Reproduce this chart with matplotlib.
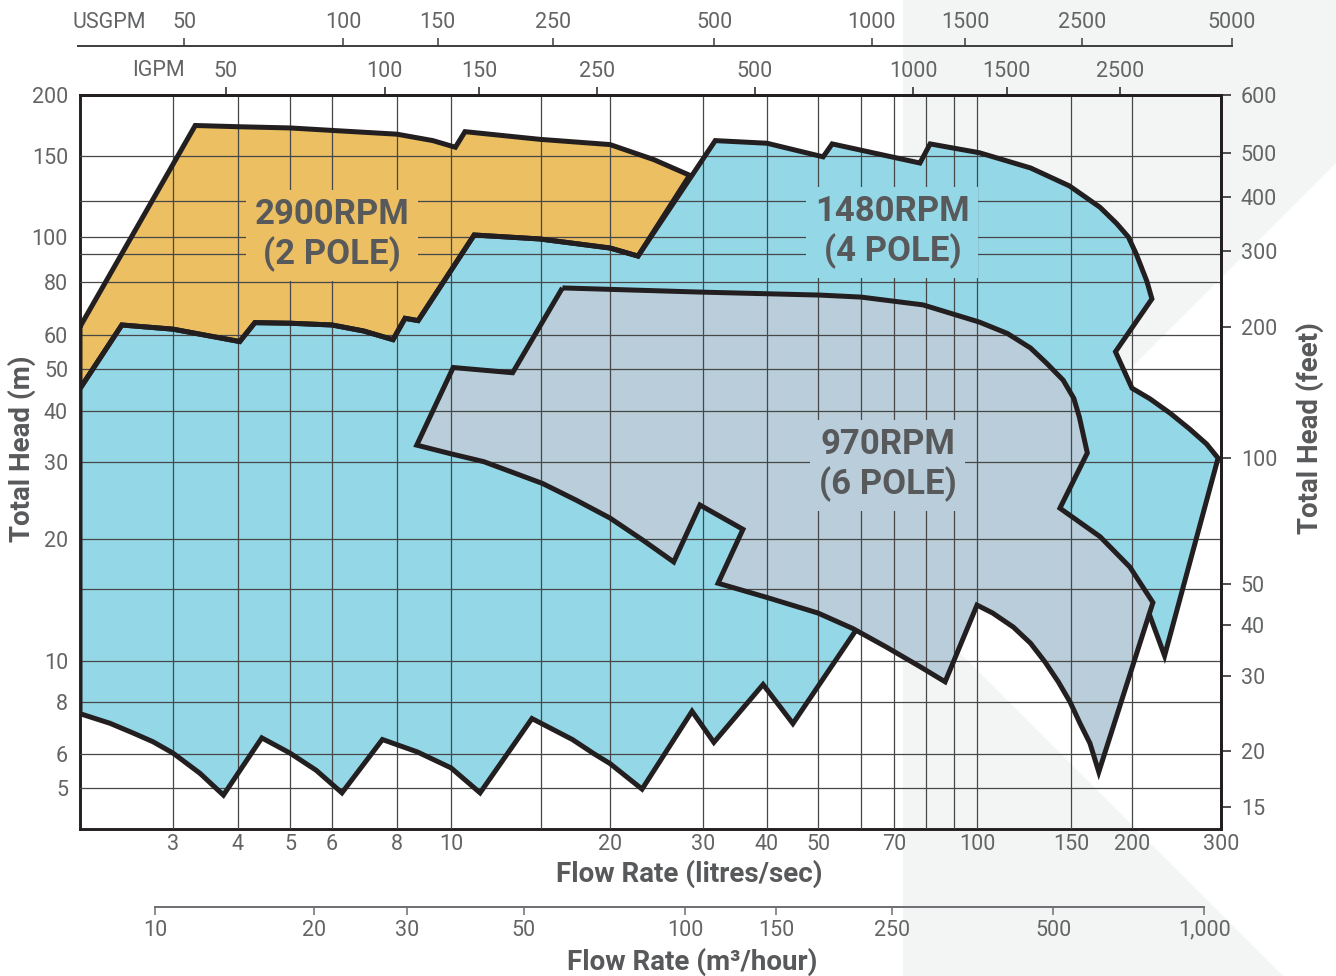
import numpy as np
import matplotlib
matplotlib.use("Agg")
from matplotlib import pyplot as plt
from matplotlib.patches import Polygon

plt.rcParams['font.family'] = ['Roboto', 'DejaVu Sans']

W, H = 1336, 976

# ---------------- pump coverage areas: flow in l/s, head in m ----------------
# boundary between the 2 pole area (above) and the 4 pole area (below), left -> right
split_q = [2, 2.4, 3, 4.03, 4.3, 5, 6, 6.9, 7.86, 8.27, 8.73, 11.1, 14.9, 20, 22.6]
split_h = [45, 63.4, 62, 58, 64.2, 64, 63.4, 61.4, 58.6, 65.7, 64.9, 101, 98.8, 93.4, 89.2]

# 2900 rpm (2 pole) upper limit, left -> right
p2_top_q = [2, 3.31, 4, 5, 6, 8, 9.28, 10.2, 10.65, 14.9, 20, 24.2, 28.3]
p2_top_h = [62.8, 173, 172, 171, 169, 166, 161, 156, 168, 162, 158, 147, 136]

# 1480 rpm (4 pole) upper and right limit, continues from the split line
p4_top_q = [31.7, 40, 51.1, 53.1, 78, 81.4, 101, 126, 149, 172, 186, 196.6, 204, 214, 219,
            185, 200, 217, 238, 260, 281, 296, 232, 216]
p4_top_h = [161, 159, 149, 158.5, 144.5, 158.5, 152, 141, 129, 116, 107, 100, 89.9, 80.1, 72.9,
            54.9, 45.1, 42.6, 39.4, 36.1, 33.2, 30.7, 10.3, 13.1]

# lower limit of the blue area, right -> left
p4_low_q = [58.5, 44.8, 39.3, 31.5, 28.6, 23.0, 21.5, 20, 18.7, 17.1, 14.4, 11.4, 10, 8.7, 7.5,
            6.27, 5.6, 5.0, 4.43, 3.75, 3.38, 3, 2.75, 2.52, 2.28, 2]
p4_low_h = [11.8, 7.1, 8.8, 6.4, 7.6, 4.97, 5.31, 5.7, 6.01, 6.5, 7.3, 4.87, 5.57, 6.07, 6.5,
            4.87, 5.5, 6.03, 6.56, 4.81, 5.41, 6.03, 6.42, 6.74, 7.11, 7.5]

# part of the blue area that lies hidden behind the 6 pole area
p4_hidden_q = [172, 110, 72]
p4_hidden_h = [14.1, 16.7, 14.1]

# 970 rpm (6 pole) area, clockwise from the top left corner
p6_q = [16.4, 29.6, 50.4, 60, 79, 101, 114, 126, 135, 145, 152, 156, 162, 143, 172, 198, 220,
        171, 164, 156.5, 149.4, 142, 134, 126, 117, 107, 100,
        86.7, 78, 67.7, 58, 50, 40, 32.1, 35.9,
        29.6, 26.4, 23.1, 20, 17.4, 15.1, 11.6, 9.95, 8.68, 10.1, 13.2]
p6_h = [77.3, 75.6, 74.4, 73.6, 70.6, 64.4, 60.6, 56, 51.6, 47.1, 42.7, 38.6, 31.6, 23.5, 20.2, 17.0, 13.9,
        5.45, 6.37, 7.11, 8.0, 8.93, 9.96, 11.05, 12.1, 13.1, 13.7,
        8.93, 9.7, 10.8, 12.0, 13.1, 14.3, 15.5, 21.0,
        23.9, 17.5, 19.8, 22.3, 24.5, 26.8, 30.1, 31.5, 33.0, 50.4, 49.0]

labels = ['2900RPM\n(2 POLE)', '1480RPM\n(4 POLE)', '970RPM\n(6 POLE)']
label_q = [6.0, 69.5, 67.9]
label_h = [101, 102.5, 29.6]

# axis ticks
ls_ticks = [3, 4, 5, 6, 8, 10, 20, 30, 40, 50, 70, 100, 150, 200, 300]
ls_grid = [15, 60, 80, 90]
m_ticks = [5, 6, 8, 10, 20, 30, 40, 50, 60, 80, 100, 150, 200]
m_grid = [15, 90, 120]
ft_ticks = [15, 20, 30, 40, 50, 100, 200, 300, 400, 500, 600]
ig_ticks = [50, 100, 150, 250, 500, 1000, 1500, 2500]
us_ticks = [50, 100, 150, 250, 500, 1000, 1500, 2500, 5000]
m3h_ticks = [10, 20, 30, 50, 100, 150, 250, 500, 1000]
m3h_labels = ['10', '20', '30', '50', '100', '150', '250', '500', '1,000']

IG = 13.198    # IGPM per l/s
US = 15.850    # USGPM per l/s
M3H = 3.6      # m3/h per l/s

# ---------------- printed chart grid (not exactly logarithmic) ----------------
flow_knots = [2, 3, 4, 5, 6, 8, 10, 15, 20, 30, 40, 50, 60, 70, 80, 90, 100, 150, 200, 300]
flow_px = [80, 173, 238, 290, 332, 397, 451, 541, 610, 703, 767, 818, 861, 894, 926, 954,
           977, 1071, 1132, 1221]
head_knots = [4, 5, 6, 8, 10, 15, 20, 30, 40, 50, 60, 80, 90, 100, 120, 150, 200]
head_px = [829, 788, 754, 702, 661, 589, 538.5, 462.3, 410.5, 369, 335.3, 281.5, 254, 237,
           200.5, 155.5, 95]
feet_knots = [15, 20, 30, 40, 50, 100, 200, 300, 400, 500, 600]
feet_px = [807, 751, 676, 625, 584, 458, 327, 251, 197, 153, 95]


def knot_scale(vals, pos):
    lv = np.log10(np.asarray(vals, float))
    pos = np.asarray(pos, float)
    s0 = (pos[1] - pos[0]) / (lv[1] - lv[0])
    s1 = (pos[-1] - pos[-2]) / (lv[-1] - lv[-2])
    lv_e = np.r_[lv[0] - 5, lv, lv[-1] + 5]
    pos_e = np.r_[pos[0] - 5 * s0, pos, pos[-1] + 5 * s1]

    def fwd(v):
        v = np.asarray(v, float)
        lg = np.log10(np.where(v > 0, v, 1e-12))
        return np.interp(lg, lv_e, pos_e)

    def inv(p):
        return 10 ** np.interp(np.asarray(p, float), pos_e, lv_e)
    return fwd, inv


fx, fx_inv = knot_scale(flow_knots, flow_px)
fy, fy_inv = knot_scale(head_knots, -np.asarray(head_px))
fft, fft_inv = knot_scale(feet_knots, -np.asarray(feet_px))

dark = '#231f20'
grid_c = '#474747'
tick_c = '#636466'
title_c = '#58595b'
orange = '#ebbf62'
blue = '#94d8e8'
grey6 = '#b9ceda'
mark_c = '#f3f5f4'

fig = plt.figure(figsize=(W / 100, H / 100), dpi=100)
fig.patch.set_facecolor('white')

# faint chevron watermark in the background
bg = fig.add_axes([0, 0, 1, 1], zorder=-10)
bg.set_xlim(0, W)
bg.set_ylim(H, 0)
bg.axis('off')
for pts in ([(903, 0), (1336, 0), (1336, 163), (903, 596)],
            [(903, 596), (1283, 976), (903, 976)]):
    bg.add_patch(Polygon(pts, closed=True, fc=mark_c, ec='none'))

ax = fig.add_axes([80 / W, 1 - 829 / H, (1221 - 80) / W, (829 - 95) / H])
ax.set_facecolor('none')
ax.set_xscale('function', functions=(fx, fx_inv))
ax.set_yscale('function', functions=(fy, fy_inv))
ax.set_xlim(2, 300)
ax.set_ylim(4, 200)

ax.set_xticks(ls_ticks)
ax.set_xticklabels([str(t) for t in ls_ticks])
ax.set_xticks(ls_grid, minor=True)
ax.set_xticklabels([], minor=True)
ax.set_yticks(m_ticks)
ax.set_yticklabels([str(t) for t in m_ticks])
ax.set_yticks(m_grid, minor=True)
ax.set_yticklabels([], minor=True)
ax.tick_params(which='both', length=0, labelsize=15.5, labelcolor=tick_c)
ax.tick_params(axis='x', pad=3.5)
ax.tick_params(axis='y', pad=8.6)
ax.grid(True, which='both', color=grid_c, lw=0.9)
ax.set_axisbelow(False)
for s in ax.spines.values():
    s.set_linewidth(2.1)
    s.set_color(dark)

# filled areas
blue_q = p4_low_q + split_q + p4_top_q
blue_h = p4_low_h + split_h + p4_top_h
ax.fill(blue_q + p4_hidden_q, blue_h + p4_hidden_h, color=blue, lw=0, zorder=1)
orange_q = p2_top_q + split_q[::-1]
orange_h = p2_top_h + split_h[::-1]
ax.fill(orange_q, orange_h, color=orange, lw=0, zorder=1.1)
ax.fill(p6_q, p6_h, color=grey6, lw=0, zorder=1.2)

# outlines
line_kw = dict(color=dark, lw=3.6, solid_joinstyle='miter', solid_capstyle='butt', zorder=4)
ax.plot(blue_q, blue_h, **line_kw)
ax.plot(orange_q + orange_q[:1], orange_h + orange_h[:1], **line_kw)
ax.plot(p6_q + p6_q[:1], p6_h + p6_h[:1], **line_kw)

for txt, q, h, fc in zip(labels, label_q, label_h, [orange, blue, grey6]):
    ax.text(q, h, txt, ha='center', va='center', fontsize=25, fontweight='bold',
            color=title_c, linespacing=1.2, zorder=3,
            bbox=dict(boxstyle='square,pad=0.25', fc=fc, ec='none'))

# head in feet on the right
axr = ax.twinx()
axr.set_yscale('function', functions=(fft, fft_inv))
axr.set_ylim(fft_inv(-829.0), 600)
axr.set_yticks(ft_ticks)
axr.set_yticklabels([str(t) for t in ft_ticks])
axr.yaxis.set_minor_locator(plt.NullLocator())
axr.tick_params(axis='y', direction='out', length=7.2, width=1.1, pad=7, color=dark,
                labelsize=15.5, labelcolor=tick_c)
for k in ['left', 'top', 'bottom']:
    axr.spines[k].set_visible(False)
axr.spines['right'].set_linewidth(2.1)
axr.spines['right'].set_color(dark)

# IGPM along the top edge
axt = ax.twiny()
axt.set_xscale('function', functions=(lambda g: fx(np.asarray(g, float) / IG),
                                      lambda p: fx_inv(p) * IG))
axt.set_xlim(2 * IG, 300 * IG)
axt.set_xticks(ig_ticks)
axt.set_xticklabels([str(t) for t in ig_ticks])
axt.xaxis.set_minor_locator(plt.NullLocator())
axt.tick_params(axis='x', direction='out', length=5.8, width=1.1, pad=3.8, color=dark,
                labelsize=15.5, labelcolor=tick_c)
for k in ['left', 'right', 'bottom']:
    axt.spines[k].set_visible(False)
axt.spines['top'].set_linewidth(2.1)
axt.spines['top'].set_color(dark)


def flow_strip(factor, x0, x1, y_px, ticks, tick_labels, side, color):
    a = fig.add_axes([x0 / W, 1 - y_px / H - (0.001 if side == 'top' else 0),
                      (x1 - x0) / W, 0.001])
    a.set_xscale('function', functions=(lambda u: fx(np.asarray(u, float) / factor),
                                        lambda p: fx_inv(p) * factor))
    a.set_xlim(fx_inv(x0) * factor, fx_inv(x1) * factor)
    a.patch.set_visible(False)
    a.set_yticks([])
    for k in ['left', 'right', 'top', 'bottom']:
        a.spines[k].set_visible(k == side)
    a.spines[side].set_linewidth(1.4)
    a.spines[side].set_color(color)
    if side == 'top':
        a.xaxis.tick_top()
    a.set_xticks(ticks)
    a.set_xticklabels(tick_labels)
    a.xaxis.set_minor_locator(plt.NullLocator())
    a.tick_params(axis='x', direction='out', length=6, width=1.1, pad=3.5, color=color,
                  labelsize=15.5, labelcolor=tick_c)
    return a


# USGPM strip above the chart, m3/hour strip below
flow_strip(US, 78, fx(5000 / US), 45.7, us_ticks, [str(t) for t in us_ticks], 'top', '#3d3d3d')
flow_strip(M3H, fx(10 / M3H), fx(1000 / M3H), 906.5, m3h_ticks, m3h_labels, 'bottom', '#6d6e71')


def fpos(x, y):
    return x / W, 1 - y / H


title_kw = dict(ha='center', va='center', fontsize=20, fontweight='bold', color=title_c)
fig.text(*fpos(22, 449), 'Total Head (m)', rotation=90, **title_kw)
fig.text(*fpos(1310, 428), 'Total Head (feet)', rotation=90, **title_kw)
fig.text(*fpos(689, 874), 'Flow Rate (litres/sec)', **title_kw)
fig.text(*fpos(692, 962), 'Flow Rate (m³/hour)', **title_kw)
fig.text(*fpos(146, 22), 'USGPM', ha='right', va='center', fontsize=15.5, color=tick_c)
fig.text(*fpos(185, 70), 'IGPM', ha='right', va='center', fontsize=15.5, color=tick_c)

fig.savefig('out.png', dpi=100)
